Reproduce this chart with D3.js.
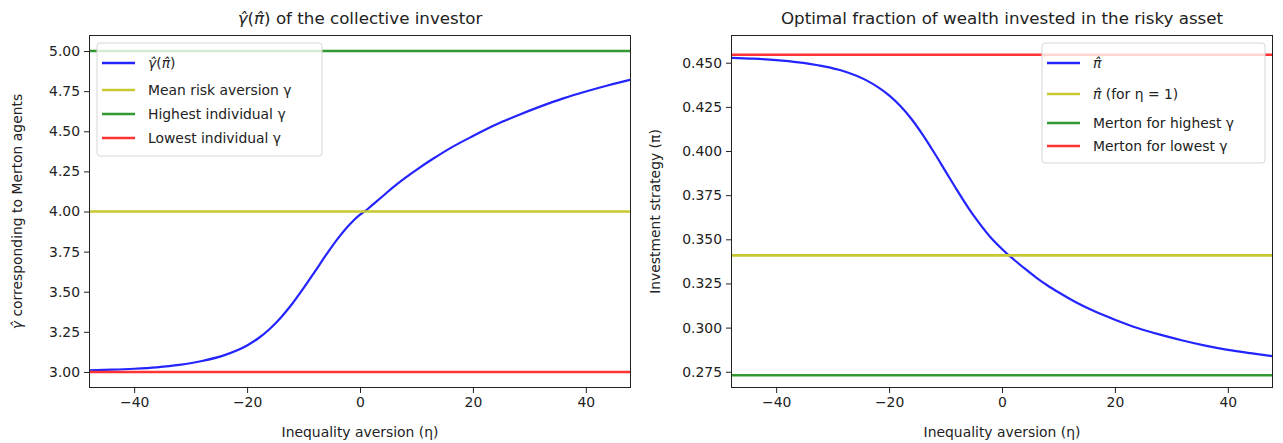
<!DOCTYPE html>
<html>
<head>
<meta charset="utf-8">
<script src="https://cdn.jsdelivr.net/npm/d3@7"></script>
<style>
  body { margin: 0; background: #fff; }
  text { font-family: "DejaVu Sans", sans-serif; fill: #222; }
  .tick text { font-size: 13.9px; fill: #222; }
  .tick line { stroke: #222; }
  .domain { display: none; }
</style>
</head>
<body>
<svg id="chart" width="1283" height="443"></svg>
<script>
// inequality aversion values (x) shared by both panels
var eta = [-48,-44,-40,-36,-32,-28,-24,-20,-18,-16,-14,-12,-10,-8,-6,-4,-2,0,1,2,4,6,8,10,13,16,20,24,28,32,36,40,44,48];
// gamma hat of the collective investor (left panel)
var gammaHat = [3.010,3.014,3.020,3.029,3.044,3.068,3.105,3.165,3.210,3.268,3.340,3.425,3.522,3.625,3.730,3.828,3.913,3.980,4.005,4.035,4.095,4.155,4.210,4.260,4.330,4.395,4.470,4.540,4.600,4.655,4.705,4.748,4.787,4.822];
// optimal fraction pi hat (right panel)
var piHat = [0.4528,0.4523,0.4515,0.4502,0.4482,0.4452,0.4400,0.4315,0.4255,0.4180,0.4090,0.3990,0.3885,0.3780,0.3680,0.3590,0.3510,0.3445,0.3415,0.3388,0.3335,0.3285,0.3240,0.3200,0.3145,0.3098,0.3045,0.2998,0.2960,0.2927,0.2898,0.2874,0.2855,0.2838];

var gammaLines = [4.0, 5.0, 3.0];          // mean, highest, lowest
var piLines = [0.3409, 0.2730, 0.4545];    // eta=1, merton highest, merton lowest

var xTicks = [-40, -20, 0, 20, 40];
var gammaTicks = [3.00, 3.25, 3.50, 3.75, 4.00, 4.25, 4.50, 4.75, 5.00];
var piTicks = [0.275, 0.300, 0.325, 0.350, 0.375, 0.400, 0.425, 0.450];

var gammaLabels = ["γ\u0302(π\u0302)", "Mean risk aversion γ", "Highest individual γ", "Lowest individual γ"];
var piLabels = ["π\u0302", "π\u0302 (for η = 1)", "Merton for highest γ", "Merton for lowest γ"];

(function(){
	var svg = d3.select("#chart");
	var colors = ["#2424ff", "#c8c832", "#339933", "#ff3333"];
	var top = 35, bottom = 388;

	// hatted symbols are set in italics like matplotlib mathtext
	function mathText(sel, str) {
		str.split(/([γπ]\u0302)/).forEach(function(part) {
			if (!part) return;
			var t = sel.append("tspan").text(part);
			if (/\u0302/.test(part)) t.style("font-style", "italic");
		});
		return sel;
	}

	function panel(opts) {
		var g = svg.append("g");
		var x = d3.scaleLinear().domain([-48, 48]).range([opts.left, opts.right]);
		var y = d3.scaleLinear().domain(opts.ydomain).range([bottom, top]);

		g.append("clipPath").attr("id", opts.id + "_clip")
			.append("rect")
			.attr("x", opts.left).attr("y", top)
			.attr("width", opts.right - opts.left).attr("height", bottom - top);

		var plot = g.append("g").attr("clip-path", "url(#" + opts.id + "_clip)");

		var line = d3.line()
			.curve(d3.curveMonotoneX)
			.x(function(d, i){ return x(eta[i]); })
			.y(function(d){ return y(d); });
		plot.append("path")
			.datum(opts.series)
			.attr("d", line)
			.style("fill", "none")
			.style("stroke", colors[0])
			.style("stroke-width", 2.2);

		opts.hlines.forEach(function(v, i) {
			plot.append("line")
				.attr("x1", opts.left).attr("x2", opts.right)
				.attr("y1", y(v)).attr("y2", y(v))
				.style("stroke", colors[i + 1])
				.style("stroke-width", 2.6);
		});

		g.append("g")
			.attr("transform", "translate(0," + bottom + ")")
			.call(d3.axisBottom(x).tickValues(xTicks).tickSize(5).tickPadding(4).tickFormat(d3.format("d")));

		g.append("g")
			.attr("transform", "translate(" + opts.left + ",0)")
			.call(d3.axisLeft(y).tickValues(opts.yticks).tickSize(5).tickPadding(4).tickFormat(d3.format(opts.yfmt)));

		g.append("rect")
			.attr("x", opts.left + 0.5).attr("y", top + 0.5)
			.attr("width", opts.right - opts.left - 1).attr("height", bottom - top - 1)
			.style("fill", "none").style("stroke", "#222").style("stroke-width", 1);

		var cx = (opts.left + opts.right) / 2;
		mathText(g.append("text")
			.attr("x", cx).attr("y", 24)
			.attr("text-anchor", "middle")
			.style("font-size", "16.7px"), opts.title);

		g.append("text")
			.attr("x", cx).attr("y", 437)
			.attr("text-anchor", "middle")
			.style("font-size", "13.9px")
			.text("Inequality aversion (η)");

		mathText(g.append("text")
			.attr("transform", "translate(" + opts.ylabelX + "," + ((top + bottom) / 2) + ") rotate(-90)")
			.attr("text-anchor", "middle")
			.style("font-size", "13.9px"), opts.ylabel);

		// legend
		var lg = g.append("g");
		var lb = opts.legend;
		lg.append("rect")
			.attr("x", lb.x).attr("y", lb.y)
			.attr("width", lb.w).attr("height", lb.h)
			.attr("rx", 3)
			.style("fill", "#fff").style("fill-opacity", 0.8)
			.style("stroke", "#d6d6d6").style("stroke-width", 1);

		opts.labels.forEach(function(lab, i) {
			var ry = lb.rows[i];
			lg.append("line")
				.attr("x1", lb.x + 5).attr("x2", lb.x + 38)
				.attr("y1", ry).attr("y2", ry)
				.style("stroke", colors[i])
				.style("stroke-width", 2.6);
			mathText(lg.append("text")
				.attr("x", lb.x + 51).attr("y", ry + 5)
				.style("font-size", "13.9px"), lab);
		});
	}

	panel({
		id: "left", left: 89, right: 631,
		ydomain: [2.9, 5.1], yticks: gammaTicks, yfmt: ".2f",
		series: gammaHat, hlines: gammaLines,
		title: "γ\u0302(π\u0302) of the collective investor",
		ylabel: "γ\u0302 corresponding to Merton agents", ylabelX: 22,
		labels: gammaLabels,
		legend: { x: 97, y: 43, w: 225, h: 113, rows: [63, 90, 114, 138] }
	});

	panel({
		id: "right", left: 731, right: 1273,
		ydomain: [0.2658, 0.4657], yticks: piTicks, yfmt: ".3f",
		series: piHat, hlines: piLines,
		title: "Optimal fraction of wealth invested in the risky asset",
		ylabel: "Investment strategy (π)", ylabelX: 660,
		labels: piLabels,
		legend: { x: 1042, y: 43, w: 223, h: 120, rows: [63, 94, 123, 146] }
	});
})();
</script>
</body>
</html>
